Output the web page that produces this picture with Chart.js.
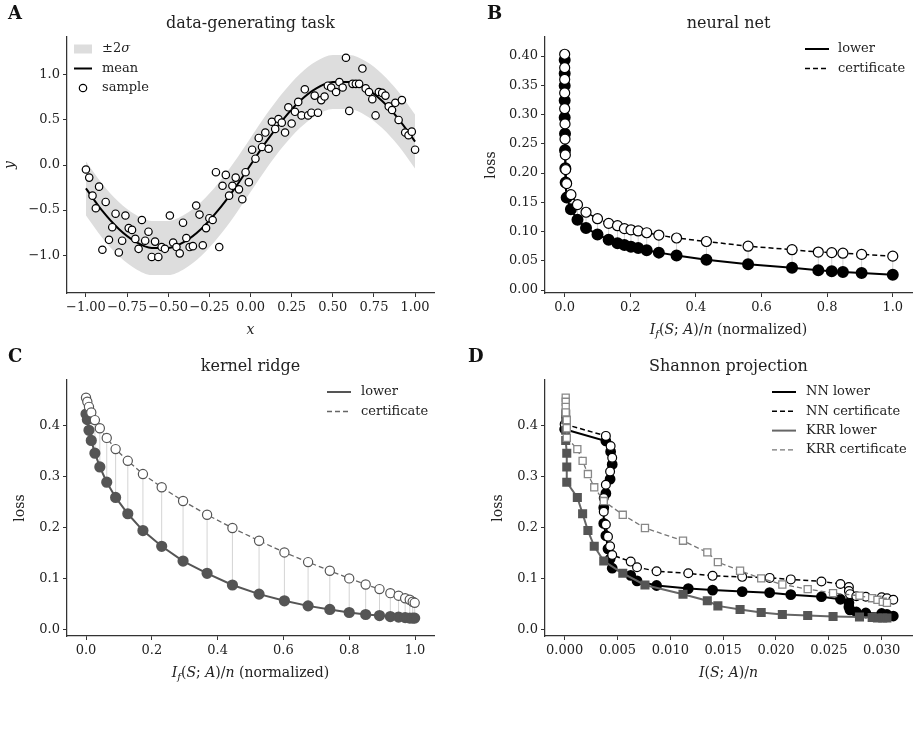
<!DOCTYPE html>
<html>
<head>
<meta charset="utf-8">
<script src="https://cdn.jsdelivr.net/npm/chart.js@4.4.1/dist/chart.umd.min.js"></script>
<style>
body { margin: 0; background: #fff; width: 920px; height: 730px; position: relative; overflow: hidden; }
canvas { position: absolute; }
</style>
</head>
<body>
<canvas id="chartA" width="460" height="345" style="left:0;top:0"></canvas>
<canvas id="chartB" width="460" height="345" style="left:460px;top:0"></canvas>
<canvas id="chartC" width="460" height="385" style="left:0;top:345px"></canvas>
<canvas id="chartD" width="460" height="385" style="left:460px;top:345px"></canvas>
<script>
// ---- panel A: data-generating task
var meanX = [-1.0, -0.9, -0.8, -0.7, -0.6, -0.5, -0.4, -0.3, -0.2, -0.1, 0.0, 0.1, 0.2, 0.3, 0.4, 0.5, 0.6, 0.7, 0.8, 0.9, 1.0];
var meanY = [-0.26, -0.51, -0.71, -0.85, -0.92, -0.92, -0.85, -0.71, -0.51, -0.27, 0.0, 0.27, 0.51, 0.71, 0.85, 0.92, 0.92, 0.85, 0.71, 0.51, 0.26];
var sigma = 0.15;
var sampleX = [-1.00, -0.98, -0.96, -0.94, -0.92, -0.90, -0.88, -0.86, -0.84, -0.82, -0.80, -0.78, -0.76, -0.74, -0.72, -0.70, -0.68, -0.66, -0.64, -0.62,
  -0.60, -0.58, -0.56, -0.54, -0.52, -0.49, -0.47, -0.45, -0.43, -0.41, -0.39, -0.37, -0.35, -0.33, -0.31, -0.29, -0.27, -0.25, -0.23, -0.21,
  -0.19, -0.17, -0.15, -0.13, -0.11, -0.09, -0.07, -0.05, -0.03, -0.01, 0.01, 0.03, 0.05, 0.07, 0.09, 0.11, 0.13, 0.15, 0.17, 0.19,
  0.21, 0.23, 0.25, 0.27, 0.29, 0.31, 0.33, 0.35, 0.37, 0.39, 0.41, 0.43, 0.45, 0.47, 0.49, 0.52, 0.54, 0.56, 0.58, 0.60,
  0.62, 0.64, 0.66, 0.68, 0.70, 0.72, 0.74, 0.76, 0.78, 0.80, 0.82, 0.84, 0.86, 0.88, 0.90, 0.92, 0.94, 0.96, 0.98, 1.00];
var sampleY = [-0.05, -0.14, -0.34, -0.48, -0.24, -0.94, -0.41, -0.83, -0.69, -0.54, -0.97, -0.84, -0.56, -0.70, -0.72, -0.82, -0.93, -0.61, -0.84, -0.74,
  -1.02, -0.85, -1.02, -0.91, -0.93, -0.56, -0.86, -0.91, -0.98, -0.64, -0.81, -0.91, -0.90, -0.45, -0.55, -0.89, -0.70, -0.59, -0.61, -0.08,
  -0.91, -0.23, -0.11, -0.34, -0.23, -0.14, -0.27, -0.38, -0.08, -0.19, 0.17, 0.07, 0.30, 0.20, 0.36, 0.18, 0.48, 0.40, 0.51, 0.47,
  0.36, 0.64, 0.46, 0.59, 0.70, 0.55, 0.84, 0.55, 0.58, 0.77, 0.58, 0.72, 0.76, 0.88, 0.86, 0.81, 0.92, 0.86, 1.19, 0.60,
  0.90, 0.90, 0.90, 1.07, 0.85, 0.81, 0.73, 0.55, 0.81, 0.80, 0.77, 0.65, 0.61, 0.69, 0.50, 0.72, 0.36, 0.33, 0.37, 0.17];

// ---- neural net (panels B and D)
var nnNorm = [0, 0, 0, 0, 0, 0.001, 0.001, 0.002, 0.003, 0.006, 0.019, 0.039, 0.065, 0.100, 0.134, 0.161, 0.182, 0.202, 0.224, 0.250,
  0.287, 0.341, 0.432, 0.559, 0.693, 0.773, 0.814, 0.848, 0.905, 1.000];
var nnShannon = [0.0000, 0.0039, 0.00435, 0.0045, 0.0043, 0.0039, 0.0037, 0.0037, 0.0039, 0.0041, 0.0043, 0.0045, 0.00625, 0.00685, 0.0087, 0.0117, 0.0140, 0.0168, 0.0194, 0.0214,
  0.0243, 0.0261, 0.0269, 0.0269, 0.0270, 0.0276, 0.0285, 0.0300, 0.0305, 0.0311];
var nnLower = [0.393, 0.370, 0.349, 0.324, 0.295, 0.267, 0.239, 0.208, 0.184, 0.158, 0.138, 0.120, 0.106, 0.095, 0.086, 0.080, 0.077, 0.074, 0.072, 0.068,
  0.064, 0.059, 0.052, 0.044, 0.038, 0.034, 0.032, 0.031, 0.029, 0.026];
var nnCert = [0.403, 0.380, 0.360, 0.337, 0.310, 0.284, 0.258, 0.231, 0.206, 0.182, 0.163, 0.146, 0.133, 0.122, 0.114, 0.110, 0.105, 0.103, 0.101, 0.098,
  0.094, 0.089, 0.083, 0.075, 0.069, 0.065, 0.064, 0.063, 0.061, 0.058];

// ---- kernel ridge (panels C and D)
var krrNorm = [0, 0.004, 0.009, 0.016, 0.027, 0.042, 0.063, 0.090, 0.127, 0.173, 0.230, 0.295, 0.368, 0.445, 0.526, 0.603, 0.675, 0.741, 0.800, 0.850,
  0.892, 0.925, 0.950, 0.970, 0.984, 0.993, 0.999];
var krrShannon = [0.0001, 0.0001, 0.0001, 0.0001, 0.0002, 0.0002, 0.0002, 0.0012, 0.0017, 0.0022, 0.0028, 0.0037, 0.0055, 0.0076, 0.0112, 0.0135, 0.0145, 0.0166, 0.0186, 0.0206,
  0.0230, 0.0254, 0.0279, 0.0291, 0.0296, 0.0301, 0.0305];
var krrLower = [0.423, 0.412, 0.391, 0.371, 0.346, 0.319, 0.289, 0.259, 0.227, 0.194, 0.163, 0.134, 0.110, 0.087, 0.069, 0.056, 0.046, 0.039, 0.033, 0.029,
  0.027, 0.025, 0.024, 0.023, 0.022, 0.022, 0.022];
var krrCert = [0.455, 0.447, 0.437, 0.426, 0.411, 0.395, 0.376, 0.354, 0.331, 0.305, 0.279, 0.252, 0.225, 0.199, 0.174, 0.151, 0.132, 0.115, 0.100, 0.088,
  0.079, 0.071, 0.066, 0.061, 0.058, 0.054, 0.052];

// ---- tick values
var ticksA_x = [-1.0, -0.75, -0.5, -0.25, 0.0, 0.25, 0.5, 0.75, 1.0];
var ticksA_y = [-1.0, -0.5, 0.0, 0.5, 1.0];
var ticksNorm_x = [0.0, 0.2, 0.4, 0.6, 0.8, 1.0];
var ticksB_y = [0.0, 0.05, 0.1, 0.15, 0.2, 0.25, 0.3, 0.35, 0.4];
var ticksCD_y = [0.0, 0.1, 0.2, 0.3, 0.4];
var ticksD_x = [0.0, 0.005, 0.01, 0.015, 0.02, 0.025, 0.03];

var FONT = 'DejaVu Serif';

function pts(xs, ys) {
  return xs.map(function (x, i) { return { x: x, y: ys[i] }; });
}
function connectors(xs, lo, hi) {
  var out = [];
  xs.forEach(function (x, i) {
    out.push({ x: x, y: lo[i] }, { x: x, y: hi[i] }, { x: x, y: null });
  });
  return out;
}
function fmt(v, d) {
  var s = Math.abs(v).toFixed(d);
  return (v < -1e-12 ? '\u2212' : '') + s;
}

function axis(min, max, ticks, decimals, size) {
  return {
    type: 'linear', min: min, max: max,
    afterBuildTicks: function (s) { s.ticks = ticks.map(function (v) { return { value: v }; }); },
    afterFit: function (s) { if (s.isHorizontal()) s.height = size; else s.width = size; },
    grid: { drawOnChartArea: false, drawTicks: true, tickLength: 4, tickWidth: 1, tickColor: '#333', color: '#333' },
    border: { display: true, color: '#333', width: 1.25 },
    ticks: {
      autoSkip: false, maxRotation: 0, padding: 3, color: '#222',
      font: { family: FONT, size: 13 },
      callback: function (v) { return fmt(v, decimals); }
    }
  };
}

function fontFor(style, size) {
  if (style === 'b') return 'bold ' + size + 'px "' + FONT + '"';
  if (style === 'i') return 'italic ' + size + 'px "' + FONT + '"';
  if (style === 's') return 'italic ' + Math.round(size * 0.7) + 'px "' + FONT + '"';
  return size + 'px "' + FONT + '"';
}
function drawRich(ctx, segs, x, y, size, align) {
  var w = 0;
  segs.forEach(function (s) { ctx.font = fontFor(s[1], size); w += ctx.measureText(s[0]).width; });
  var cx = align === 'center' ? x - w / 2 : x;
  segs.forEach(function (s) {
    ctx.font = fontFor(s[1], size);
    ctx.fillText(s[0], cx, s[1] === 's' ? y + size * 0.3 : y);
    cx += ctx.measureText(s[0]).width;
  });
}
function drawHandle(ctx, h, x0, x1, y) {
  ctx.save();
  if (h.type === 'patch') {
    ctx.fillStyle = h.color;
    ctx.fillRect(x0, y - 4.5, x1 - x0, 9);
  } else if (h.type === 'line') {
    ctx.strokeStyle = h.color;
    ctx.lineWidth = h.width;
    ctx.setLineDash(h.dash || []);
    ctx.beginPath(); ctx.moveTo(x0, y); ctx.lineTo(x1, y); ctx.stroke();
  } else {
    ctx.beginPath(); ctx.arc((x0 + x1) / 2, y, 3.7, 0, 2 * Math.PI);
    ctx.fillStyle = '#fff'; ctx.fill();
    ctx.strokeStyle = '#000'; ctx.lineWidth = 1.2; ctx.stroke();
  }
  ctx.restore();
}

var infoLabel = [['I', 'i'], ['f', 's'], ['(', 'r'], ['S', 'i'], ['; ', 'r'], ['A', 'i'], [')/', 'r'], ['n', 'i'], [' (normalized)', 'r']];
var panels = {
  chartA: {
    letter: 'A', letterX: 8, letterY: 14, title: 'data-generating task', titleY: 24,
    xLabel: [['x', 'i']], xLabelY: 330, yLabel: [['y', 'i']], yLabelX: 10,
    legend: { x0: 74, x1: 92, tx: 102, y: 49, step: 19.5, rows: [
      { handle: { type: 'patch', color: '#dddddd' }, label: [['\u00b12', 'r'], ['\u03c3', 'i']] },
      { handle: { type: 'line', color: '#000', width: 2 }, label: [['mean', 'r']] },
      { handle: { type: 'marker' }, label: [['sample', 'r']] }
    ] }
  },
  chartB: {
    letter: 'B', letterX: 27, letterY: 14, title: 'neural net', titleY: 24,
    xLabel: infoLabel, xLabelY: 330, yLabel: [['loss', 'r']], yLabelX: 31,
    legend: { x0: 345, x1: 369, tx: 378, y: 49, step: 19.5, rows: [
      { handle: { type: 'line', color: '#000', width: 2 }, label: [['lower', 'r']] },
      { handle: { type: 'line', color: '#000', width: 1.5, dash: [5, 3] }, label: [['certificate', 'r']] }
    ] }
  },
  chartC: {
    letter: 'C', letterX: 8, letterY: 12, title: 'kernel ridge', titleY: 22,
    xLabel: infoLabel, xLabelY: 328, yLabel: [['loss', 'r']], yLabelX: 20,
    legend: { x0: 327, x1: 351, tx: 361, y: 47, step: 19.5, rows: [
      { handle: { type: 'line', color: '#555', width: 2 }, label: [['lower', 'r']] },
      { handle: { type: 'line', color: '#666', width: 1.3, dash: [5, 3] }, label: [['certificate', 'r']] }
    ] }
  },
  chartD: {
    letter: 'D', letterX: 8, letterY: 12, title: 'Shannon projection', titleY: 22,
    xLabel: [['I', 'i'], ['(', 'r'], ['S', 'i'], ['; ', 'r'], ['A', 'i'], [')/', 'r'], ['n', 'i']], xLabelY: 328,
    yLabel: [['loss', 'r']], yLabelX: 38,
    legend: { x0: 312, x1: 336, tx: 346, y: 47, step: 19.3, rows: [
      { handle: { type: 'line', color: '#000', width: 2 }, label: [['NN lower', 'r']] },
      { handle: { type: 'line', color: '#000', width: 1.5, dash: [5, 3] }, label: [['NN certificate', 'r']] },
      { handle: { type: 'line', color: '#666', width: 2 }, label: [['KRR lower', 'r']] },
      { handle: { type: 'line', color: '#777', width: 1.3, dash: [5, 3] }, label: [['KRR certificate', 'r']] }
    ] }
  }
};

var panelPlugin = {
  id: 'panelText',
  afterDraw: function (chart) {
    var p = panels[chart.canvas.id];
    var ctx = chart.ctx, a = chart.chartArea;
    var midX = (a.left + a.right) / 2, midY = (a.top + a.bottom) / 2;
    ctx.save();
    ctx.fillStyle = '#222';
    ctx.textBaseline = 'middle';
    ctx.textAlign = 'left';
    ctx.fillStyle = '#111';
    drawRich(ctx, [[p.letter, 'b']], p.letterX, p.letterY, 18, 'left');
    ctx.fillStyle = '#222';
    drawRich(ctx, [[p.title, 'r']], midX, p.titleY, 16, 'center');
    drawRich(ctx, p.xLabel, midX, p.xLabelY, 14, 'center');
    ctx.save();
    ctx.translate(p.yLabelX, midY);
    ctx.rotate(-Math.PI / 2);
    drawRich(ctx, p.yLabel, 0, 0, 14, 'center');
    ctx.restore();
    p.legend.rows.forEach(function (row, i) {
      var y = p.legend.y + i * p.legend.step;
      drawHandle(ctx, row.handle, p.legend.x0, p.legend.x1, y);
      ctx.fillStyle = '#222';
      drawRich(ctx, row.label, p.legend.tx, y, 13, 'left');
    });
    ctx.restore();
  }
};

function makeChart(id, datasets, xAxis, yAxis, pad) {
  return new Chart(document.getElementById(id), {
    type: 'scatter',
    data: { datasets: datasets },
    options: {
      responsive: false,
      animation: false,
      layout: { padding: pad },
      plugins: { legend: { display: false }, tooltip: { enabled: false } },
      scales: { x: xAxis, y: yAxis }
    },
    plugins: [panelPlugin]
  });
}

// A
var bandHi = meanY.map(function (m) { return m + 2 * sigma; });
var bandLo = meanY.map(function (m) { return m - 2 * sigma; });
makeChart('chartA', [
  { data: pts(sampleX, sampleY), showLine: false, pointRadius: 3.7, pointBackgroundColor: '#fff', pointBorderColor: '#000', pointBorderWidth: 1.2, order: 0 },
  { data: pts(meanX, meanY), showLine: true, borderColor: '#000', borderWidth: 2, pointRadius: 0, cubicInterpolationMode: 'monotone', order: 1 },
  { data: pts(meanX, bandHi), showLine: true, borderWidth: 0, borderColor: 'rgba(0,0,0,0)', pointRadius: 0, cubicInterpolationMode: 'monotone', order: 3 },
  { data: pts(meanX, bandLo), showLine: true, borderWidth: 0, borderColor: 'rgba(0,0,0,0)', pointRadius: 0, cubicInterpolationMode: 'monotone', fill: '-1', backgroundColor: '#dddddd', order: 2 }
], axis(-1.115, 1.115, ticksA_x, 2, 52), axis(-1.42, 1.42, ticksA_y, 1, 67), { left: 0, top: 37, right: 26, bottom: 0 });

// B
makeChart('chartB', [
  { data: pts(nnNorm, nnCert), showLine: true, borderColor: '#000', borderWidth: 1.5, borderDash: [5, 3], pointRadius: 5, pointBackgroundColor: '#fff', pointBorderColor: '#000', pointBorderWidth: 1.2, order: 0 },
  { data: pts(nnNorm, nnLower), showLine: true, borderColor: '#000', borderWidth: 2, pointRadius: 5, pointBackgroundColor: '#000', pointBorderColor: '#000', order: 1 },
  { data: connectors(nnNorm, nnLower, nnCert), showLine: true, spanGaps: false, borderColor: '#d4d4d4', borderWidth: 1, pointRadius: 0, order: 2 }
], axis(-0.06, 1.0586, ticksNorm_x, 1, 52), axis(-0.005, 0.4325, ticksB_y, 2, 85), { left: 0, top: 37, right: 8, bottom: 0 });

// C
makeChart('chartC', [
  { data: pts(krrNorm, krrCert), showLine: true, borderColor: '#666', borderWidth: 1.3, borderDash: [5, 3], pointRadius: 4.6, pointBackgroundColor: '#fff', pointBorderColor: '#555', pointBorderWidth: 1.2, order: 0 },
  { data: pts(krrNorm, krrLower), showLine: true, borderColor: '#555', borderWidth: 2, pointRadius: 4.6, pointBackgroundColor: '#555', pointBorderColor: '#555', order: 1 },
  { data: connectors(krrNorm, krrLower, krrCert), showLine: true, spanGaps: false, borderColor: '#d4d4d4', borderWidth: 1, pointRadius: 0, order: 2 }
], axis(-0.0578, 1.0577, ticksNorm_x, 1, 94), axis(-0.0132, 0.4898, ticksCD_y, 1, 67), { left: 0, top: 35, right: 26, bottom: 0 });

// D
makeChart('chartD', [
  { data: pts(krrShannon, krrCert), showLine: true, borderColor: '#777', borderWidth: 1.3, borderDash: [5, 3], pointStyle: 'rect', pointRadius: 5, pointBackgroundColor: '#fff', pointBorderColor: '#888', pointBorderWidth: 1.3, order: 0 },
  { data: pts(krrShannon, krrLower), showLine: true, borderColor: '#666', borderWidth: 2, pointStyle: 'rect', pointRadius: 5, pointBackgroundColor: '#555', pointBorderColor: '#555', order: 1 },
  { data: pts(nnShannon, nnCert), showLine: true, borderColor: '#000', borderWidth: 1.5, borderDash: [5, 3], pointRadius: 4.4, pointBackgroundColor: '#fff', pointBorderColor: '#000', pointBorderWidth: 1.2, order: 2 },
  { data: pts(nnShannon, nnLower), showLine: true, borderColor: '#000', borderWidth: 2, pointRadius: 4.4, pointBackgroundColor: '#000', pointBorderColor: '#000', order: 3 }
], axis(-0.00186, 0.03287, ticksD_x, 3, 94), axis(-0.0132, 0.4898, ticksCD_y, 1, 85), { left: 0, top: 35, right: 8, bottom: 0 });
</script>
</body>
</html>
